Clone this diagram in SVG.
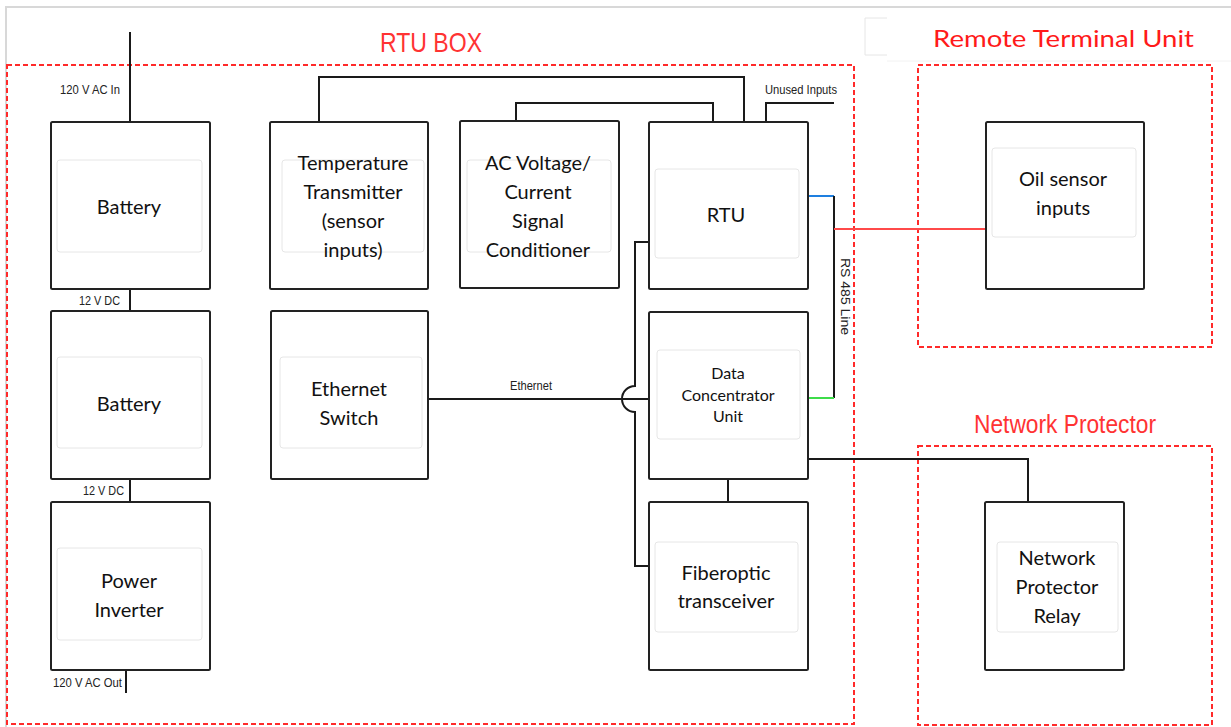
<svg xmlns="http://www.w3.org/2000/svg" width="1231" height="727" viewBox="0 0 1231 727">
<style>
.box{fill:#fff;stroke:#222;stroke-width:2}
.inner{fill:#fff;stroke:#e6e6e6;stroke-width:1}
.zone{fill:none;stroke:#ff2a2a;stroke-width:2;stroke-dasharray:5 3}
.wire{fill:none;stroke:#1a1a1a;stroke-width:2}
.node{font-family:Lato,"Noto Sans","Open Sans",sans-serif;font-size:20px;fill:#111;text-anchor:middle}
.dcu{font-size:16px}
.small{font-family:"Liberation Sans",Arial,sans-serif;font-size:13px;fill:#222}
.title{font-family:"Liberation Sans",Arial,sans-serif;fill:#ff3333}
</style>
<rect x="0" y="0" width="1231" height="727" fill="#fff"/>
<g id="frame">
<path d="M6,727 V7 H1231" fill="none" stroke="#d8d8d8" stroke-width="2"/>
<path d="M887,61 H1231" fill="none" stroke="#f2f2f2" stroke-width="1"/>
<path d="M887,18 H865 V55 H887" fill="none" stroke="#e6e6e6" stroke-width="1"/>
</g>
<g id="zones">
<rect class="zone" x="7" y="65" width="847" height="659"/>
<rect class="zone" x="918" y="65" width="294" height="282"/>
<rect class="zone" x="918" y="446" width="294" height="279"/>
<text class="title" x="380" y="52" font-size="28" textLength="102" lengthAdjust="spacingAndGlyphs">RTU BOX</text>
<text x="933" y="47" font-family="Lato,'Noto Sans',sans-serif" font-size="24" fill="#ff1a1a" textLength="261" lengthAdjust="spacingAndGlyphs">Remote Terminal Unit</text>
<text class="title" x="974" y="433" font-size="26" textLength="182" lengthAdjust="spacingAndGlyphs">Network Protector</text>
</g>
<g id="connectors">
<path class="wire" d="M130,32 V122"/>
<path class="wire" d="M130,289 V311"/>
<path class="wire" d="M130,479 V502"/>
<path class="wire" d="M126,670 V693"/>
<path class="wire" d="M319,122 V77 H744 V122"/>
<path class="wire" d="M516,120 V103 H713 V122"/>
<path class="wire" d="M766,122 V103 H834"/>
<path class="wire" d="M649,242 H635 V386 A13,13 0 0 0 635,412 V566 H649"/>
<path class="wire" d="M428,399 H649"/>
<path class="wire" d="M728,479 V502"/>
<path class="wire" d="M808,459 H1028 V502"/>
<path d="M808,196 H834" fill="none" stroke="#1e7fe0" stroke-width="2"/>
<path class="wire" d="M834,196 V398"/>
<path d="M808,398 H834" fill="none" stroke="#3ddc4a" stroke-width="2"/>
<path d="M834,229 H986" fill="none" stroke="#ff4a4a" stroke-width="2"/>
<text class="small" x="60" y="94" textLength="60" lengthAdjust="spacingAndGlyphs">120 V AC In</text>
<text class="small" x="79" y="305" textLength="41" lengthAdjust="spacingAndGlyphs">12 V DC</text>
<text class="small" x="83" y="495" textLength="41" lengthAdjust="spacingAndGlyphs">12 V DC</text>
<text class="small" x="53" y="687" textLength="69" lengthAdjust="spacingAndGlyphs">120 V AC Out</text>
<text class="small" x="765" y="94" textLength="72" lengthAdjust="spacingAndGlyphs">Unused Inputs</text>
<text class="small" x="510" y="390" textLength="42" lengthAdjust="spacingAndGlyphs">Ethernet</text>
<text class="small" transform="translate(841,258) rotate(90)" x="0" y="0" textLength="77" lengthAdjust="spacingAndGlyphs">RS 485 Line</text>
</g>
<g id="battery1">
<rect class="box" x="51" y="122" width="159" height="167" rx="1.5"/>
<rect class="inner" x="57" y="160" width="145" height="92" rx="3"/>
<text class="node" x="129" y="214">Battery</text>
</g>
<g id="battery2">
<rect class="box" x="51" y="311" width="159" height="168" rx="1.5"/>
<rect class="inner" x="57" y="357" width="145" height="91" rx="3"/>
<text class="node" x="129" y="411">Battery</text>
</g>
<g id="inverter">
<rect class="box" x="51" y="502" width="159" height="168" rx="1.5"/>
<rect class="inner" x="57" y="548" width="145" height="92" rx="3"/>
<text class="node" x="129" y="588">Power</text>
<text class="node" x="129" y="617">Inverter</text>
</g>
<g id="temp">
<rect class="box" x="270" y="122" width="158" height="167" rx="1.5"/>
<rect class="inner" x="282" y="160" width="142" height="92" rx="3"/>
<text class="node" x="353" y="170">Temperature</text>
<text class="node" x="353" y="199">Transmitter</text>
<text class="node" x="353" y="228">(sensor</text>
<text class="node" x="353" y="257">inputs)</text>
</g>
<g id="acv">
<rect class="box" x="460" y="121" width="159" height="167" rx="1.5"/>
<rect class="inner" x="467" y="160" width="144" height="92" rx="3"/>
<text class="node" x="538" y="170">AC Voltage/</text>
<text class="node" x="538" y="199">Current</text>
<text class="node" x="538" y="228">Signal</text>
<text class="node" x="538" y="257">Conditioner</text>
</g>
<g id="rtu">
<rect class="box" x="649" y="122" width="159" height="167" rx="1.5"/>
<rect class="inner" x="655" y="169" width="144" height="89" rx="3"/>
<text class="node" x="726" y="222">RTU</text>
</g>
<g id="ethswitch">
<rect class="box" x="271" y="311" width="157" height="168" rx="1.5"/>
<rect class="inner" x="280" y="357" width="142" height="91" rx="3"/>
<text class="node" x="349" y="396">Ethernet</text>
<text class="node" x="349" y="425">Switch</text>
</g>
<g id="dcu">
<rect class="box" x="649" y="312" width="159" height="167" rx="1.5"/>
<rect class="inner" x="657" y="350" width="143" height="89" rx="3"/>
<text class="node dcu" x="728" y="379">Data</text>
<text class="node dcu" x="728" y="401">Concentrator</text>
<text class="node dcu" x="728" y="422">Unit</text>
</g>
<g id="fiber">
<rect class="box" x="649" y="502" width="159" height="168" rx="1.5"/>
<rect class="inner" x="655" y="542" width="143" height="90" rx="3"/>
<text class="node" x="726" y="580">Fiberoptic</text>
<text class="node" x="726" y="608">transceiver</text>
</g>
<g id="oilsensor">
<rect class="box" x="986" y="122" width="158" height="167" rx="1.5"/>
<rect class="inner" x="992" y="148" width="144" height="89" rx="3"/>
<text class="node" x="1063" y="186">Oil sensor</text>
<text class="node" x="1063" y="215">inputs</text>
</g>
<g id="relay">
<rect class="box" x="985" y="502" width="139" height="168" rx="1.5"/>
<rect class="inner" x="997" y="542" width="121" height="90" rx="3"/>
<text class="node" x="1057" y="565">Network</text>
<text class="node" x="1057" y="594">Protector</text>
<text class="node" x="1057" y="623">Relay</text>
</g>
</svg>
